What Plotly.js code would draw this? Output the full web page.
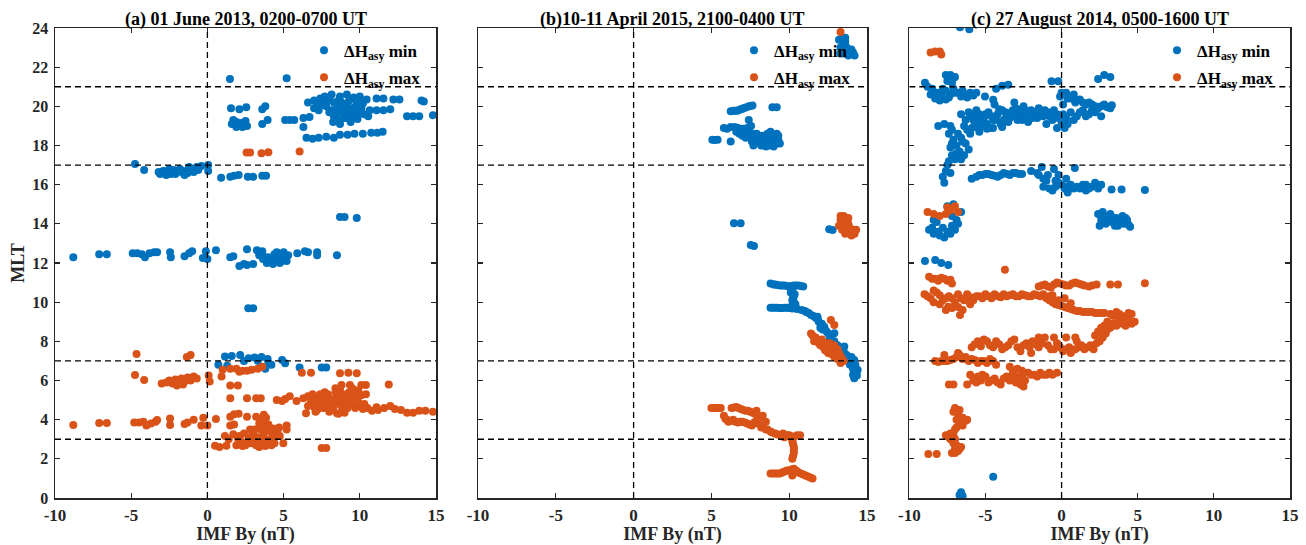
<!DOCTYPE html>
<html>
<head>
<meta charset="utf-8">
<script src="https://cdn.plot.ly/plotly-3.0.1.min.js"></script>
<style>html,body{margin:0;padding:0;background:#fff;}#chart{width:1306px;height:545px;}</style>
</head>
<body>
<div id="chart"></div>
<script>
// ---------- DATA ----------
var panelTitles = ["(a) 01 June 2013, 0200-0700 UT", "(b)10-11 April 2015, 2100-0400 UT", "(c) 27 August 2014, 0500-1600 UT"];
var seriesNames = ["\u0394H<sub>asy</sub> min", "\u0394H<sub>asy</sub> max"];
var xTicks = [-10, -5, 0, 5, 10, 15];
var yTicks = [0, 2, 4, 6, 8, 10, 12, 14, 16, 18, 20, 22, 24];
var refLinesMLT = [3, 7, 17, 21];
var refLineBy = 0;

// Panel (a) ΔHasy min  [IMF By, MLT]
var aMin = [
[-8.8,12.3],[-7.1,12.45],[-6.6,12.45],[-4.9,12.5],[-4.6,12.5],[-4.3,12.45],[-4.1,12.3],[-3.8,12.5],[-3.5,12.55],[-3.3,12.55],
[-2.45,12.55],[-2.4,12.3],[-1.5,12.35],[-1.2,12.5],[-1.0,12.6],[-0.3,12.25],[-0.1,12.6],[0.0,12.2],[0.56,12.65],[1.5,12.3],
[1.7,12.35],[2.1,11.85],[2.4,11.95],[2.6,11.9],[3.0,11.95],[2.6,12.7],[3.25,12.65],[3.6,12.6],[3.65,12.2],[3.9,12.0],
[4.3,11.95],[4.75,12.0],[5.2,12.1],[4.55,12.55],[5.0,12.55],[5.0,12.25],[4.8,12.4],[5.9,12.5],[6.4,12.6],[6.6,12.55],
[7.2,12.55],[7.2,12.4],[8.5,12.4],[4.0,12.3],[3.4,12.4],[4.1,12.15],[4.5,12.2],[4.9,12.1],[4.4,12.45],[3.8,12.3],[5.3,12.4],
[8.7,14.35],[9.0,14.35],[9.8,14.3],
[-4.75,17.05],[-4.15,16.75],[-3.1,16.55],[-2.8,16.6],[-2.6,16.7],[-2.4,16.55],[-2.2,16.75],[-2.0,16.65],[-1.8,16.8],[-1.6,16.6],
[-1.4,16.7],[-1.2,16.9],[-1.0,16.8],[-0.7,16.9],[-0.4,16.95],[-1.5,16.5],[-2.7,16.5],[0.05,17.0],[0.05,16.7],[0.9,16.35],
[1.5,16.4],[1.75,16.45],[2.05,16.5],[2.65,16.4],[3.0,16.4],[3.6,16.45],[3.85,16.45],
[-2.9,16.7],[-2.5,16.8],[-2.1,16.55],[-1.7,16.7],[-1.3,16.6],[-0.9,16.65],[-0.6,16.75],[-3.2,16.65],
[1.48,21.4],[5.2,21.43],
[1.55,19.9],[2.1,19.85],[2.55,19.95],[1.6,19.1],[1.9,19.2],[2.2,19.15],[2.5,19.25],[1.9,18.95],[2.3,18.95],[2.6,19.0],
[1.7,19.3],[3.6,19.85],[3.8,20.0],[3.6,19.1],[3.95,19.3],[5.1,19.3],[5.4,19.3],[5.7,19.3],[6.3,18.95],
[6.6,20.2],[7.4,20.4],[7.7,20.5],[8.15,20.6],[8.7,20.5],[9.15,20.6],[9.6,20.45],[10.0,20.5],[10.45,20.35],[11.1,20.4],
[11.55,20.4],[12.2,20.35],[12.6,20.35],[14.05,20.3],[14.2,20.25],
[7.6,20.07],[8.15,19.8],[8.5,19.9],[8.8,19.8],[9.2,19.9],[9.65,19.95],[10.65,19.8],[11.1,19.8],[11.55,19.8],[12.0,19.85],
[6.3,19.4],[6.7,19.45],[8.25,19.2],[8.7,19.3],[9.2,19.4],[9.4,19.2],[9.85,19.35],[10.55,19.5],[13.1,19.5],[13.5,19.5],
[13.9,19.5],[14.8,19.55],[8.5,19.6],[9.0,19.6],[9.3,19.7],[8.9,20.0],[9.5,19.55],[9.9,19.6],[7.9,20.3],[8.3,20.2],[8.0,20.4],
[7.0,20.3],[7.2,20.1],[7.5,20.2],[7.8,20.0],[8.0,19.7],[8.3,19.5],[8.6,20.3],[8.8,20.2],[9.0,19.4],[9.1,20.1],
[9.3,20.3],[9.4,19.9],[9.6,19.75],[9.8,20.2],[10.1,19.9],[10.3,19.6],[8.4,19.35],[8.7,19.1],[9.6,19.45],[10.2,20.15],
[7.3,19.8],[7.0,19.9],
[6.5,18.4],[6.9,18.35],[7.3,18.4],[7.8,18.45],[8.3,18.4],[8.7,18.55],[9.2,18.55],[9.65,18.6],[10.2,18.6],[10.75,18.65],
[11.15,18.65],[11.5,18.7],
[2.68,9.69],[3.0,9.69],
[1.15,7.22],[1.6,7.25],[2.15,7.3],[0.72,6.8],[1.3,6.75],[2.7,7.13],[3.1,7.18],[3.55,7.2],[3.95,7.1],[4.2,6.8],
[3.8,6.6],[4.9,7.05],[5.1,6.88],[6.05,6.67],[7.5,6.67],[7.8,6.67],[3.3,7.0],[2.4,7.0],[4.0,6.9]
];
// Panel (a) ΔHasy max
var aMax = [
[2.57,17.64],[2.8,17.64],[3.55,17.6],[4.0,17.65],[6.05,17.7],
[-4.65,7.35],[-1.35,7.2],[-1.1,7.3],[-4.75,6.28],[-4.15,6.03],
[-3.0,5.85],[-2.7,5.9],[-2.5,6.0],[-2.3,5.85],[-2.1,6.05],[-1.9,5.9],[-1.7,6.1],[-1.5,5.95],[-1.3,6.15],[-1.1,6.0],
[-0.9,6.2],[-0.7,6.1],[-1.6,5.8],[-2.0,5.75],
[0.08,6.25],[0.15,5.95],[0.93,6.2],[1.5,5.75],[2.0,5.75],
[1.0,6.55],[1.5,6.6],[1.9,6.6],[2.3,6.5],[2.6,6.5],[2.9,6.55],[3.3,6.6],[3.6,6.7],[2.1,6.45],
[1.5,5.1],[2.6,5.1],[3.2,5.1],[3.5,5.1],[4.55,5.0],[5.1,5.05],[5.4,5.2],[5.85,4.95],[4.9,4.95],
[6.2,6.4],[6.8,6.4],[8.7,6.37],[9.25,6.4],[9.8,6.37],[8.8,5.77],[9.35,5.77],[10.1,5.77],[10.4,5.77],[11.9,5.8],[8.4,5.6],[9.5,5.6],
[6.47,4.33],[6.6,5.2],[6.9,5.3],[7.1,5.0],[7.3,4.8],[7.5,5.1],[7.7,4.9],[7.9,5.3],[8.1,5.0],[8.3,4.7],
[8.5,5.2],[8.7,4.9],[8.9,4.5],[9.1,5.1],[9.3,4.8],[9.5,5.3],[9.7,4.6],[9.9,4.9],[10.1,5.25],[10.2,4.55],
[7.2,4.5],[7.6,4.6],[8.0,4.4],[8.6,4.3],[9.0,4.35],[7.0,4.65],[6.8,4.9],[8.4,5.4],[9.6,5.5],[8.5,4.33],[6.3,5.09],
[6.6,4.7],[6.9,5.1],[7.1,4.4],[7.4,5.3],[7.6,4.95],[7.8,4.6],[8.0,5.1],[8.2,4.5],[8.4,4.9],[8.6,5.1],
[8.8,4.7],[9.0,4.9],[9.2,4.6],[9.4,5.0],[9.6,4.75],[9.8,5.2],[10.0,4.7],[10.3,4.8],[7.9,4.75],[8.9,5.3],
[9.3,5.4],[10.4,5.3],[7.3,5.2],[8.7,5.55],[9.9,5.5],[7.7,5.4],
[10.5,4.6],[10.8,4.45],[11.2,4.5],[11.6,4.6],[12.0,4.7],[12.3,4.55],[12.7,4.5],[13.1,4.35],[13.5,4.35],[13.9,4.45],
[14.3,4.45],[14.8,4.4],[11.1,4.63],
[-8.8,3.73],[-7.1,3.83],[-6.6,3.83],[-4.8,3.85],[-4.5,3.85],[-4.2,3.9],[-4.0,3.7],[-3.7,3.8],[-3.4,3.9],[-3.3,3.98],
[-2.45,4.06],[-2.45,3.73],[-1.5,3.78],[-1.3,3.85],[-0.9,4.0],[-0.27,4.1],[-0.4,3.7],[0.0,3.7],[0.56,4.03],[1.5,4.15],
[1.75,4.28],[2.05,4.3],[1.5,3.7],[1.75,3.75],[2.6,4.15],[3.2,4.15],[3.7,4.25],[3.6,3.95],[3.85,4.1],
[0.5,2.67],[0.8,2.6],[1.25,2.67],[1.15,3.17],[1.7,3.25],[2.1,3.17],[1.9,2.7],[2.6,2.78],[4.75,3.17],[5.2,3.5],
[5.2,3.7],[4.98,2.8],
[2.7,3.0],[2.9,2.8],[3.0,3.3],[3.2,2.7],[3.3,3.1],[3.5,3.5],[3.6,2.85],[3.7,3.25],[3.8,2.65],[3.9,3.6],
[4.1,3.0],[4.2,3.4],[4.4,2.8],[4.5,3.2],[4.7,3.6],[2.4,3.3],[2.2,2.9],[3.4,3.8],[4.0,3.75],[4.3,3.55],
[4.6,3.45],[1.4,3.0],[2.0,3.05],[4.0,2.75],
[2.5,2.7],[2.8,3.1],[3.1,2.9],[3.3,2.75],[3.5,3.0],[3.7,2.75],[3.9,2.9],[4.2,2.7],[4.4,3.1],[3.6,3.6],
[3.1,3.5],[2.8,3.5],[3.8,3.4],[4.3,3.25],[2.3,2.65],[3.4,2.6],
[7.5,2.55],[7.8,2.55]
];

// Panel (b) ΔHasy min
var bMin = [
[13.2,23.4],[13.4,23.5],[13.6,23.3],[13.3,23.0],[13.7,23.0],[13.5,22.7],[13.9,22.7],[14.2,22.6],[14.0,22.9],[13.6,23.5],
[13.3,22.7],[13.8,22.6],[13.5,23.15],[13.8,22.85],[14.1,22.75],
[6.24,19.75],[6.67,19.78],[7.1,19.92],[7.42,20.0],[7.64,20.04],[6.45,19.77],[6.9,19.85],[8.92,19.95],[9.2,19.95],
[6.35,19.76],[6.55,19.78],[6.8,19.82],[7.0,19.88],[7.25,19.95],[7.5,20.02],
[5.8,18.9],[6.24,18.95],[6.0,18.85],[5.06,18.3],[5.4,18.3],[5.2,18.28],[6.24,18.2],
[6.7,18.9],[6.9,18.8],[7.1,18.7],[7.3,18.9],[7.5,18.5],[7.6,18.2],[7.8,18.4],[7.4,19.3],[7.7,18.0],[8.0,18.3],
[8.3,18.5],[8.5,18.2],[8.7,18.0],[8.9,18.4],[9.1,18.2],[9.3,18.3],[8.6,18.6],[9.0,17.95],[8.8,18.7],[7.2,18.4],
[8.2,18.0],[7.0,18.5],[9.2,18.6],[8.4,18.1],
[6.6,18.7],[6.8,18.6],[7.0,18.85],[7.2,18.65],[7.4,18.75],[7.6,18.6],[7.9,18.6],[8.1,18.5],[8.4,18.4],[8.6,18.35],
[8.8,18.2],[9.0,18.5],[9.2,18.1],[9.3,18.5],[8.7,18.3],[8.3,18.25],[7.9,18.15],[6.5,18.95],[7.55,19.0],[8.5,17.95],[9.4,18.1],
[6.45,14.03],[6.88,14.03],[7.53,12.92],[7.74,12.87],[12.57,13.72],[12.79,13.69],
[8.8,10.95],[9.1,10.9],[9.4,10.85],[9.7,10.85],[10.0,10.8],[10.3,10.85],[10.6,10.85],[10.9,10.8],
[9.0,10.9],[9.25,10.88],[9.55,10.85],[9.85,10.82],[10.15,10.82],[10.45,10.85],[10.75,10.82],
[10.1,10.5],[10.3,10.3],[10.2,10.1],[10.4,9.9],[10.1,9.75],[10.2,10.6],[10.35,10.4],[10.25,10.2],[10.3,10.0],
[8.8,9.72],[9.1,9.72],[9.4,9.7],[9.7,9.72],[10.0,9.7],[8.95,9.72],[9.25,9.72],[9.55,9.7],[9.85,9.71],[10.2,9.68],[10.5,9.65],
[10.8,9.6],[11.1,9.5],[11.4,9.35],[11.7,9.2],[11.82,9.26],[11.9,9.0],[12.0,8.7],[12.25,8.75],[12.3,8.6],[12.5,8.4],
[12.9,8.41],[12.6,8.1],[12.8,7.9],[13.0,7.7],[13.2,7.5],[13.54,7.73],[13.4,7.4],[13.6,7.2],[13.8,7.0],[14.18,7.05],
[13.9,6.8],[14.1,6.6],[14.4,6.54],[14.3,6.4],[14.18,6.11],[14.2,6.2],[14.0,7.2],
[11.0,9.55],[11.25,9.45],[11.55,9.3],[11.85,9.1],[12.1,8.9],[12.15,8.6],[12.4,8.5],[12.7,8.25],[12.9,8.0],[13.1,7.8],
[13.3,7.6],[13.5,7.5],[13.7,7.3],[13.9,7.1],[14.0,6.9],[14.25,6.8],[14.3,6.6],[14.1,6.3],[14.35,6.25]
];
// Panel (b) ΔHasy max
var bMax = [
[13.3,23.8],
[13.3,14.4],[13.5,14.2],[13.2,13.9],[13.7,14.0],[13.9,13.8],[13.4,13.7],[14.1,13.6],[14.3,13.7],[13.8,14.3],[14.0,13.4],
[13.6,13.5],[13.5,14.4],[13.4,14.1],[13.6,13.8],[13.8,14.0],[14.0,13.7],[13.3,14.2],[13.7,13.6],[14.2,13.5],
[12.68,9.09],[12.9,8.84],
[11.4,8.4],[11.7,8.2],[11.9,7.9],[12.1,8.1],[12.2,7.7],[12.4,7.9],[12.6,7.6],[12.8,7.5],[13.0,7.3],[13.2,7.4],
[13.4,7.1],[12.9,7.8],[13.1,7.6],[12.5,7.4],[13.3,6.9],[11.6,8.0],
[11.5,8.3],[11.8,8.05],[12.0,8.0],[12.3,7.85],[12.5,7.7],[12.7,7.7],[12.3,7.55],[12.7,7.35],[12.9,7.2],[13.1,7.1],
[13.3,7.25],[13.5,7.0],[12.0,7.8],[12.6,7.9],[12.85,7.65],[13.1,7.35],
[5.0,4.6],[5.3,4.6],[5.6,4.6],[6.3,4.6],[6.6,4.65],[6.9,4.55],[7.2,4.45],[7.5,4.4],[7.8,4.3],[8.1,4.1],
[5.9,4.05],[6.1,3.9],[6.4,4.0],[6.7,3.85],[7.0,3.9],[7.3,3.8],[7.6,3.7],[7.9,3.95],[8.2,3.6],[8.5,3.5],
[8.8,3.4],[9.1,3.3],[9.4,3.2],[9.7,3.1],[9.6,3.3],[10.0,3.2],[10.3,3.1],[10.7,3.2],[8.3,4.2],[8.5,3.9],
[5.15,4.6],[5.45,4.6],[6.45,4.62],[6.75,4.6],[7.05,4.5],[7.35,4.45],[7.65,4.35],[5.8,4.2],[6.0,4.0],[6.3,3.95],
[6.55,3.9],[6.85,3.9],[7.15,3.85],[7.45,3.75],[7.75,3.85],[8.0,3.8],[8.3,3.65],[8.6,3.5],[8.9,3.35],[9.2,3.25],
[9.5,3.15],[9.85,3.2],[10.15,3.15],[10.5,3.2],[8.0,4.2],[7.9,4.45],
[10.2,2.9],[10.3,2.6],[10.3,2.3],[10.2,2.0],[10.25,2.75],[10.3,2.45],[10.25,2.15],
[8.8,1.25],[9.1,1.25],[9.4,1.25],[9.7,1.35],[10.0,1.4],[10.3,1.5],[10.6,1.3],[10.9,1.2],[11.2,1.1],[11.5,1.0],[10.2,1.15],
[8.95,1.25],[9.25,1.25],[9.55,1.3],[9.85,1.4],[10.15,1.45],[10.45,1.4],[10.75,1.25],[11.05,1.15],[11.35,1.05]
];

// Panel (c) ΔHasy min
var cMin = [
[-6.67,24.04],[-6.06,23.94],
[-8.97,21.2],[-7.6,21.6],[-7.3,21.6],[-7.0,21.5],[-7.5,21.3],[-7.2,21.2],[-7.45,21.55],[-7.15,21.4],
[-8.5,20.9],[-8.2,20.7],[-7.9,20.6],[-7.6,20.8],[-7.3,20.6],[-7.0,20.7],[-6.6,20.5],[-6.3,20.6],[-6.0,20.7],[-5.8,20.55],
[-8.0,20.3],[-7.6,20.35],[-8.6,20.6],[-8.3,20.4],[-7.8,20.9],[-7.4,20.45],[-7.1,20.9],[-6.8,20.7],[-6.5,20.8],[-6.2,20.45],
[-5.6,20.7],[-8.8,21.0],
[-4.3,20.9],[-3.9,21.05],[-3.5,21.1],[-5.03,20.5],[-4.49,20.34],[-0.66,21.28],[-0.22,21.28],
[-0.1,20.5],[0.3,20.7],[0.6,20.4],[1.0,20.3],[1.4,20.2],[1.8,20.2],[2.2,20.0],[2.6,20.0],[3.0,19.95],[3.3,20.05],
[0.1,20.1],[0.8,20.6],[0.0,20.7],[0.4,20.4],[0.9,20.2],[1.2,20.35],[1.6,20.1],[2.0,20.1],[2.4,19.9],[2.8,20.1],[3.2,19.9],
[2.4,21.4],[2.8,21.6],[3.2,21.5],
[-6.3,19.3],[-6.0,19.5],[-5.7,19.2],[-5.4,19.6],[-5.1,19.4],[-4.8,19.7],[-4.5,19.3],[-4.2,19.6],[-3.9,19.8],[-3.6,19.5],
[-3.3,19.7],[-3.0,19.9],[-2.7,19.6],[-2.4,19.8],[-2.1,19.5],[-1.8,19.7],[-1.5,19.9],[-1.2,19.5],[-0.9,19.7],[-0.6,19.3],
[-0.3,19.6],[0.0,19.2],[-5.9,18.9],[-5.3,19.0],[-4.7,18.9],[-4.0,19.1],[-3.5,19.2],[-2.9,19.3],[-2.2,19.2],[-1.6,19.4],
[-6.1,19.7],[-4.4,20.1],[-3.1,20.2],[-2.5,20.0],[0.3,19.4],[0.6,19.7],[1.0,19.5],[1.4,19.8],[1.8,19.6],[2.2,19.7],[2.6,19.5],
[-1.0,19.1],[-0.3,18.9],[0.2,18.9],[-5.6,19.8],[-4.9,19.1],
[-6.4,19.0],[-6.2,18.8],[-5.8,19.3],[-5.6,18.95],[-5.5,19.4],[-5.2,19.2],[-5.0,19.6],[-4.9,18.85],[-4.6,19.5],[-4.3,19.3],
[-4.1,19.85],[-3.8,19.3],[-3.7,19.7],[-3.4,19.4],[-3.2,19.8],[-3.0,19.5],[-2.8,19.8],[-2.6,19.3],[-2.3,19.6],[-2.0,19.8],
[-1.9,19.4],[-1.7,19.6],[-1.4,19.6],[-1.1,19.8],[-0.8,19.5],[-0.5,19.8],[-0.2,19.4],[0.1,19.6],[0.4,19.1],[0.8,19.3],
[1.2,19.7],[1.6,19.5],[2.0,19.8],[-6.0,18.6],[-5.4,18.7],[-4.5,18.9],[-3.9,18.95],[-6.6,19.6],[-5.9,19.6],
[-8.1,19.0],[-7.7,19.1],[-7.3,19.0],
[-7.4,18.6],[-7.1,18.3],[-7.3,17.9],[-6.9,18.0],[-6.6,18.4],[-6.7,17.7],[-6.4,17.5],[-6.1,17.8],[-7.0,17.3],[-6.3,18.1],
[-7.2,18.8],[-6.8,18.6],[-6.5,18.2],[-7.2,18.1],[-6.9,17.6],[-6.6,17.3],[-7.2,17.5],[-7.4,17.2],
[-7.5,17.0],[-7.6,16.7],[-7.8,16.4],[-7.7,16.1],[-7.3,16.6],
[-5.9,16.3],[-5.4,16.5],[-5.0,16.55],[-4.6,16.5],[-4.2,16.4],[-3.8,16.6],[-3.4,16.5],[-3.0,16.6],[-2.6,16.55],
[-5.6,16.4],[-5.2,16.5],[-4.8,16.55],[-4.4,16.45],[-4.0,16.5],[-3.6,16.55],[-3.2,16.6],[-2.8,16.55],
[-2.0,16.7],[-1.6,16.6],[-1.3,16.9],[-0.9,16.5],[-0.5,16.8],[-1.2,16.3],[-0.4,16.2],
[-1.2,15.9],[-0.6,15.7],[-0.2,16.1],[0.2,15.8],[0.6,16.0],[1.0,15.9],[1.4,16.0],[1.8,15.8],[2.2,16.1],[2.6,16.0],
[0.4,15.6],[1.6,15.7],[0.87,16.85],[3.28,15.75],[3.94,15.75],[5.47,15.73],
[-1.0,16.2],[-0.8,15.8],[-0.4,15.9],[0.0,16.0],[0.4,15.9],[0.8,15.8],[1.2,15.8],[1.6,16.0],[2.0,15.9],[2.4,15.8],
[-1.5,16.5],[-0.2,16.5],[0.3,16.3],
[2.4,14.5],[2.8,14.4],[3.2,14.5],[3.6,14.3],[4.0,14.4],[2.5,13.9],[2.9,14.0],[3.3,14.1],[3.7,13.9],[4.1,14.0],
[4.5,13.85],[4.3,14.2],[2.6,14.2],[3.0,14.2],[3.4,14.3],[3.8,14.1],[4.2,14.3],[4.4,13.95],[3.5,13.9],[2.7,14.6],
[-8.7,13.7],[-8.4,13.5],[-8.1,13.6],[-7.8,13.8],[-7.5,13.6],[-7.2,13.9],[-6.9,14.2],[-7.5,14.9],[-7.1,15.0],[-6.6,14.6],
[-8.2,14.1],[-7.7,13.3],[-8.5,13.8],[-8.0,13.4],[-7.3,13.5],[-7.0,13.7],[-6.8,14.0],[-7.2,14.4],[-8.4,14.2],
[-8.97,12.1],[-8.3,12.15],[-7.9,12.0],[-7.44,11.9],
[-4.49,1.09],[-6.6,0.3],[-6.5,0.1],[-6.7,0.15]
];
// Panel (c) ΔHasy max
var cMax = [
[-8.6,22.75],[-8.3,22.8],[-8.0,22.8],[-7.9,22.65],
[-8.8,14.6],[-8.4,14.5],[-8.0,14.4],[-7.6,14.5],[-7.3,14.7],[-7.0,14.9],[-7.5,14.85],[-6.8,14.6],
[-3.72,11.66],
[-8.7,11.3],[-8.3,11.2],[-7.9,11.25],[-7.5,11.1],[-7.2,10.95],[-8.5,11.2],[-8.1,11.1],[-7.7,11.2],[-7.3,11.15],
[-9.0,10.4],[-8.6,10.2],[-8.2,10.5],[-7.8,10.1],[-7.4,10.3],[-7.0,10.0],[-6.6,10.2],[-6.2,10.4],[-5.8,10.1],[-5.4,10.3],
[-5.0,10.4],[-4.6,10.2],[-4.2,10.3],[-3.8,10.4],[-3.4,10.35],[-3.0,10.3],[-2.6,10.4],[-2.2,10.3],[-1.8,10.4],[-1.4,10.3],
[-1.0,10.2],[-0.6,10.35],[-0.2,10.1],[-7.2,9.7],[-6.5,9.6],[-8.0,9.9],[-6.0,9.9],[-7.44,9.77],[-6.67,9.35],
[-8.8,10.3],[-8.4,10.0],[-8.0,10.35],[-7.6,10.2],[-7.2,10.2],[-6.8,10.4],[-6.4,10.1],[-6.0,10.25],[-5.6,10.3],[-5.2,10.2],
[-4.8,10.3],[-4.4,10.4],[-4.0,10.25],[-3.6,10.3],[-3.2,10.4],[-2.8,10.3],[-2.4,10.35],[-2.0,10.3],[-1.6,10.35],[-1.2,10.4],
[-0.8,10.3],[-7.6,9.6],[-6.8,9.75],[-8.4,10.6],
[-1.5,10.8],[-1.1,10.9],[-0.7,10.75],[-0.3,11.0],[0.1,10.9],[0.5,10.85],[0.9,11.0],[1.3,10.9],[1.8,10.8],[2.3,10.9],
[3.2,10.9],[3.7,10.9],[5.47,10.96],
[-1.3,10.85],[-0.9,10.8],[-0.5,10.9],[-0.1,10.95],[0.3,10.85],[0.7,10.95],[1.1,10.95],[1.5,10.85],[2.0,10.85],
[-0.8,10.1],[-0.4,9.9],[0.0,9.8],[0.4,9.7],[0.8,9.6],[1.2,9.55],[1.6,9.5],[2.0,9.5],[2.4,9.45],[2.8,9.45],[0.2,10.2],[0.6,9.95],
[-0.6,10.0],[-0.2,9.85],[0.2,9.75],[0.6,9.65],[1.0,9.55],[1.4,9.5],[1.8,9.5],[2.2,9.45],[2.6,9.45],
[3.2,9.4],[3.6,9.5],[4.0,9.3],[4.4,9.2],[4.8,9.0],[3.0,9.0],[3.4,8.9],[3.8,9.1],[4.2,8.8],[2.6,8.7],[2.9,8.4],[2.5,8.0],
[2.2,8.3],[4.6,9.4],[3.4,9.3],[3.8,9.4],[4.2,9.1],[4.6,8.9],[3.2,8.7],[3.6,8.8],[4.0,8.9],[2.8,8.8],[2.7,8.2],[3.0,8.6],
[4.4,9.45],[2.4,8.5],
[-5.9,7.7],[-5.5,8.0],[-5.1,8.1],[-4.7,7.8],[-4.3,8.0],[-3.9,7.6],[-3.5,7.8],[-3.1,8.1],[-2.7,7.5],[-2.3,7.9],
[-1.9,8.0],[-1.5,7.7],[-1.1,8.2],[-0.7,7.6],[-0.3,7.9],[0.1,7.5],[0.5,7.7],[0.9,7.6],[1.3,7.8],[1.7,7.7],
[2.1,7.6],[0.3,8.2],[-0.5,8.2],[-2.0,7.4],[1.0,8.0],[0.6,7.4],
[-5.7,7.85],[-5.3,7.75],[-4.9,8.0],[-4.5,7.7],[-4.1,7.85],[-3.7,7.7],[-3.3,8.0],[-2.9,7.7],[-2.5,7.8],[-2.1,7.7],
[-1.7,7.85],[-1.3,7.9],[-0.9,7.8],[-0.5,7.6],[-0.1,7.7],[0.3,7.6],[0.7,7.55],[1.1,7.7],[1.5,7.6],[1.9,7.8],
[0.9,8.2],[-1.5,8.2],[2.3,7.9],
[-8.3,7.0],[-7.9,7.0],[-7.5,7.0],[-7.1,7.1],[-6.7,7.3],[-6.3,7.2],[-5.9,7.1],[-5.5,6.9],[-5.1,7.0],[-4.7,7.1],
[-4.3,6.8],[-6.8,7.4],[-7.7,7.3],
[-8.1,6.95],[-7.7,7.0],[-7.3,7.05],[-6.9,7.2],[-6.5,7.1],[-6.1,7.0],[-5.7,7.05],[-5.3,7.0],[-4.9,6.9],[-4.5,7.0],
[-7.4,5.8],[-7.1,5.8],[-6.2,5.8],[-5.8,6.0],[-5.5,6.2],[-5.2,6.3],[-4.8,5.9],[-4.4,6.1],[-4.0,5.8],[-3.6,6.2],
[-3.2,6.3],[-2.8,6.0],[-2.5,5.7],[-2.2,6.4],[-1.8,6.3],[-1.4,6.4],[-1.0,6.3],[-0.6,6.3],[-0.3,6.4],[-3.4,6.7],
[-2.9,6.6],[-3.0,5.9],[-6.0,6.3],
[-5.6,5.9],[-5.3,6.0],[-5.0,6.2],[-4.6,6.0],[-4.2,5.9],[-3.8,6.1],[-3.4,6.0],[-3.0,6.2],[-2.6,6.2],[-2.4,6.0],
[-2.0,6.3],[-1.6,6.2],[-1.2,6.3],[-0.8,6.4],[-2.7,5.8],[-3.2,6.5],[-2.6,6.5],
[-7.0,4.6],[-6.8,4.3],[-6.5,4.1],[-6.2,4.0],[-6.7,3.8],[-7.0,3.5],[-7.3,3.3],[-7.6,3.2],[-7.3,3.0],[-7.1,2.8],
[-7.0,2.5],[-6.8,2.4],[-6.6,2.6],[-7.2,2.3],[-6.5,3.7],
[-7.1,4.4],[-6.7,4.5],[-6.9,4.0],[-6.6,3.9],[-6.9,3.6],[-7.1,3.2],[-7.4,3.1],[-7.0,3.0],[-6.9,2.7],[-7.0,2.3],
[-6.7,2.5],[-6.3,3.95],
[-8.75,2.25],[-8.2,2.25]
];

// ---------- FIGURE ----------
var BLUE = '#0072BD', ORANGE = '#D95319';
var FONT = '"Liberation Serif", "Times New Roman", serif';
var panels = [
  {min: aMin, max: aMax, dom: [55/1306, 436/1306], legX: 304/1306},
  {min: bMin, max: bMax, dom: [478/1306, 867/1306], legX: 734/1306},
  {min: cMin, max: cMax, dom: [909.3/1306, 1290/1306], legX: 1157/1306}
];
function col(arr, i) { return arr.map(function (p) { return p[i]; }); }

var traces = [], shapes = [], annotations = [];
var layout = {
  width: 1306, height: 545,
  margin: {l: 0, r: 0, t: 28, b: 47, pad: 0},
  paper_bgcolor: '#fff', plot_bgcolor: '#fff',
  font: {family: FONT, size: 17, color: '#000'},
  showlegend: true
};

panels.forEach(function (p, k) {
  var n = k === 0 ? '' : String(k + 1);
  var xa = 'x' + n, ya = 'y' + n;
  var legName = k === 0 ? 'legend' : 'legend' + (k + 1);
  traces.push({
    type: 'scatter', mode: 'markers', x: col(p.min, 0), y: col(p.min, 1),
    xaxis: xa, yaxis: ya, name: seriesNames[0], legend: legName, legendgroup: 'min' + k,
    marker: {color: BLUE, size: 8, line: {width: 0}}, hoverinfo: 'x+y'
  });
  traces.push({
    type: 'scatter', mode: 'markers', x: col(p.max, 0), y: col(p.max, 1),
    xaxis: xa, yaxis: ya, name: seriesNames[1], legend: legName, legendgroup: 'max' + k,
    marker: {color: ORANGE, size: 8, line: {width: 0}}, hoverinfo: 'x+y'
  });
  layout['xaxis' + n] = {
    domain: p.dom, anchor: ya, range: [-10, 15], tickvals: xTicks, ticktext: xTicks.map(String),
    ticks: 'inside', ticklen: 5, tickwidth: 1.2, tickcolor: '#262626',
    showline: true, linecolor: '#262626', linewidth: 1.5, mirror: 'ticks',
    showgrid: false, zeroline: false, fixedrange: true, ticklabelstandoff: 1,
    tickfont: {family: FONT, size: 17, weight: 'bold', color: '#262626'},
    title: {text: 'IMF By (nT)', font: {family: FONT, size: 18, weight: 'bold', color: '#262626'}, standoff: 0}
  };
  var yax = {
    domain: [0, 1], anchor: xa, range: [0, 24], tickvals: yTicks,
    ticks: 'inside', ticklen: 5, tickwidth: 1.2, tickcolor: '#262626',
    showline: true, linecolor: '#262626', linewidth: 1.5, mirror: 'ticks',
    showgrid: false, zeroline: false, fixedrange: true, showticklabels: k === 0,
    tickfont: {family: FONT, size: 16, weight: 'bold', color: '#262626'}
  };
  if (k === 0) {
    yax.ticklabelstandoff = 2;
    yax.title = {text: 'MLT', font: {family: FONT, size: 18, weight: 'bold', color: '#262626'}, standoff: 3};
  }
  layout['yaxis' + n] = yax;
  layout[legName] = {
    x: p.legX, xanchor: 'left', y: 0.99, yanchor: 'top',
    bgcolor: 'rgba(0,0,0,0)', borderwidth: 0, tracegroupgap: 2,
    font: {family: FONT, size: 17, weight: 'bold', color: '#000'}
  };
  refLinesMLT.forEach(function (v) {
    shapes.push({type: 'line', xref: xa, yref: ya, x0: -10, x1: 15, y0: v, y1: v,
      line: {color: '#000', width: 1.3, dash: '6px,4px'}, layer: 'above'});
  });
  shapes.push({type: 'line', xref: xa, yref: ya, x0: refLineBy, x1: refLineBy, y0: 0, y1: 24,
    line: {color: '#000', width: 1.3, dash: '6px,4px'}, layer: 'above'});
  annotations.push({
    xref: 'paper', yref: 'paper', x: (p.dom[0] + p.dom[1]) / 2, y: 1, xanchor: 'center', yanchor: 'bottom',
    yshift: -4, showarrow: false, text: panelTitles[k],
    font: {family: FONT, size: 18, weight: 'bold', color: '#000'}
  });
});
layout.shapes = shapes;
layout.annotations = annotations;

Plotly.newPlot('chart', traces, layout, {displayModeBar: false, staticPlot: true});
</script>
</body>
</html>
